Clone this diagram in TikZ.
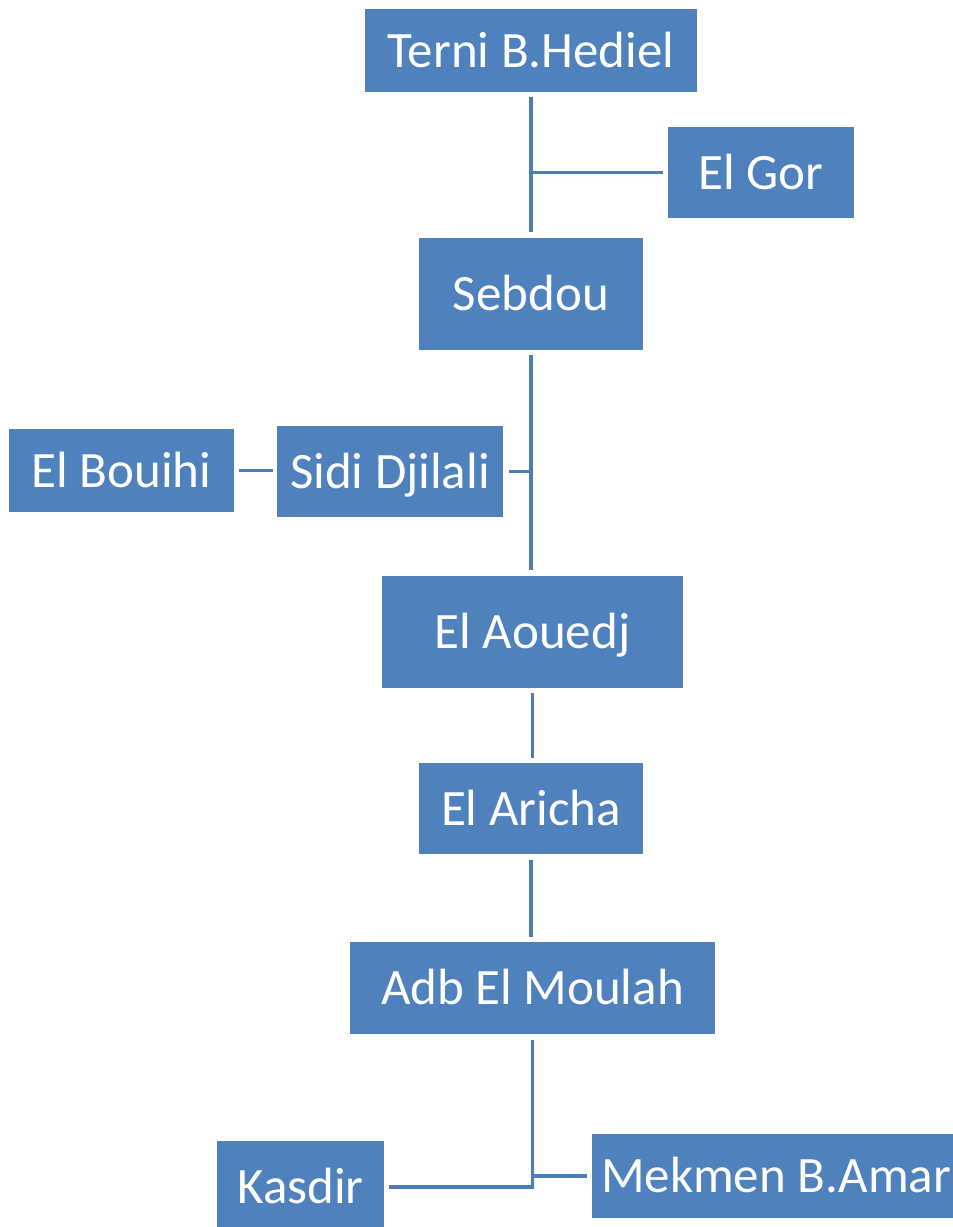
\documentclass[tikz,border=0pt]{standalone}
\usepackage{fontspec}
\setmainfont{Carlito}
\definecolor{boxblue}{HTML}{4F81BD}
\definecolor{lineblue}{HTML}{4A7EBB}

\begin{document}
\begin{tikzpicture}[x=1pt, y=-1pt,
    town/.style={fill=boxblue, text=white, inner sep=0pt, text height=33pt, text depth=0pt,
                 font=\fontsize{51}{60}\selectfont},
    link/.style={draw=lineblue, line width=3.5pt}]
    \useasboundingbox (0,0) rectangle (953,1227);
    \clip (0,0) rectangle (953,1227);
    % towns
    \node[town, minimum width=332pt, minimum height=83pt] (terni) at (531,50.5) {Terni B.Hediel};
    \node[town, minimum width=186pt, minimum height=91pt] (elgor) at (761,172.5) {El Gor};
    \node[town, minimum width=224pt, minimum height=112pt] (sebdou) at (531,294) {Sebdou};
    \node[town, minimum width=225pt, minimum height=83pt] (elbouihi) at (121.5,470.5) {El Bouihi};
    \node[town, minimum width=226pt, minimum height=91pt] (sidi) at (390,471.5) {Sidi Djilali};
    \node[town, minimum width=301pt, minimum height=112pt] (elaouedj) at (532.5,632) {El Aouedj};
    \node[town, minimum width=224pt, minimum height=91pt] (elaricha) at (531,808.5) {El Aricha};
    \node[town, minimum width=365pt, minimum height=92pt] (adb) at (532.5,988) {Adb El Moulah};
    \node[town, minimum width=167pt, minimum height=92pt] (kasdir) at (300.5,1187) {Kasdir};
    \node[town, minimum width=368pt, minimum height=84pt] (mekmen) at (776,1176) {Mekmen B.Amar};
    % links
    \draw[link, shorten <=5pt, shorten >=6pt] (terni.south) -- (sebdou.north);
    \draw[link, shorten >=5pt] (terni.south |- elgor.west) -- (elgor.west);
    \draw[link, shorten <=5pt, shorten >=6pt] (sebdou.south) -- (sebdou.south |- elaouedj.north);
    \draw[link, shorten <=6pt] (sidi.east) -- (sidi.east -| sebdou.south);
    \draw[link, shorten <=5pt, shorten >=4pt] (elbouihi.east) -- (elbouihi.east -| sidi.west);
    \draw[link, shorten <=5pt, shorten >=5pt] (elaouedj.south) -- (elaouedj.south |- elaricha.north);
    \draw[link, shorten <=6pt, shorten >=5pt] (elaricha.south) -- (elaricha.south |- adb.north);
    \draw[link, shorten <=6pt, shorten >=5pt] (adb.south) |- (kasdir.east);
    \draw[link, shorten >=5pt] (adb.south |- mekmen.west) -- (mekmen.west);
\end{tikzpicture}
\end{document}
